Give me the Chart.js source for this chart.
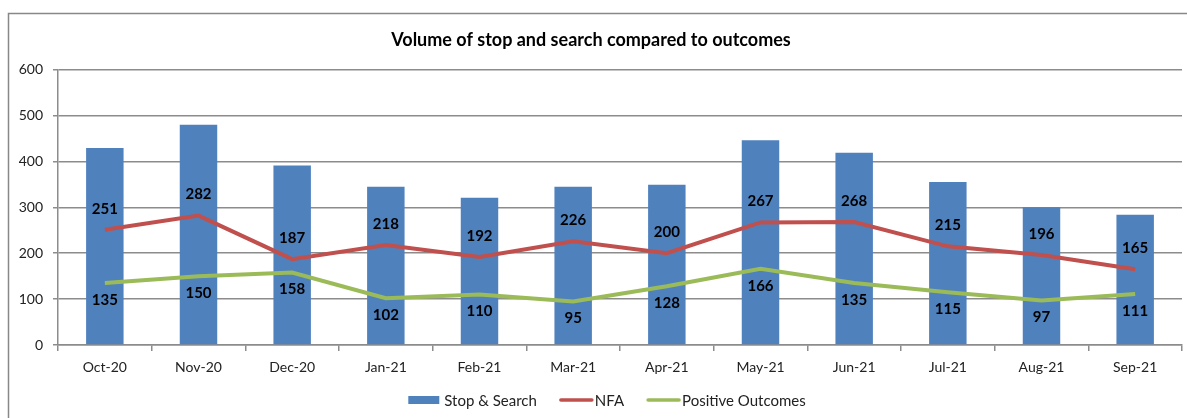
<!DOCTYPE html>
<html>
<head>
<meta charset="utf-8">
<script src="https://cdn.jsdelivr.net/npm/chart.js@4"></script>
<style>
html,body{margin:0;padding:0;background:#fff;}
#wrap{width:1187px;height:418px;position:relative;}
</style>
</head>
<body>
<div id="wrap"><canvas id="c" width="1187" height="418"></canvas></div>
<script>
const categories = ['Oct-20','Nov-20','Dec-20','Jan-21','Feb-21','Mar-21','Apr-21','May-21','Jun-21','Jul-21','Aug-21','Sep-21'];
const stopSearch = [429, 480, 391, 345, 321, 345, 349, 446, 419, 355, 300, 284];
const nfa = [251, 282, 187, 218, 192, 226, 200, 267, 268, 215, 196, 165];
const positiveOutcomes = [135, 150, 158, 102, 110, 95, 128, 166, 135, 115, 97, 111];
const yTicks = [0, 100, 200, 300, 400, 500, 600];
const titleText = 'Volume of stop and search compared to outcomes';

const FONT = 'Lato, "Liberation Sans", sans-serif';
const GRID = '#8c8c8c';

const frame = {
  id: 'frame',
  beforeDraw(chart) {
    const ctx = chart.ctx;
    ctx.save();
    ctx.fillStyle = '#fff';
    ctx.fillRect(0, 0, chart.width, chart.height);
    ctx.strokeStyle = '#888';
    ctx.lineWidth = 1.5;
    ctx.strokeRect(8.5, 13.5, chart.width + 20, chart.height + 20);
    ctx.restore();
  }
};

const valueLabels = {
  id: 'valueLabels',
  afterDatasetsDraw(chart) {
    const ctx = chart.ctx;
    ctx.save();
    ctx.font = 'bold 15px ' + FONT;
    ctx.fillStyle = '#000';
    ctx.textAlign = 'center';
    ctx.textBaseline = 'middle';
    chart.data.datasets.forEach((ds, i) => {
      if (ds.labelOffset === undefined) return;
      const meta = chart.getDatasetMeta(i);
      meta.data.forEach((pt, j) => {
        ctx.fillText(String(ds.data[j]), pt.x, pt.y + ds.labelOffset);
      });
    });
    ctx.restore();
  }
};

const customLegend = {
  id: 'customLegend',
  afterDraw(chart) {
    const ctx = chart.ctx;
    ctx.save();
    ctx.font = '15px ' + FONT;
    ctx.textBaseline = 'middle';
    const items = chart.data.datasets.map(ds => ({text: ds.label, color: ds.type === 'line' ? ds.borderColor : ds.backgroundColor, line: ds.type === 'line'}));
    const sym = 33, gap = 3, between = 22;
    let total = 0;
    items.forEach((it, k) => { it.w = ctx.measureText(it.text).width; total += sym + gap + it.w + (k ? between : 0); });
    let x = 607 - total / 2;
    const y = 400;
    items.forEach((it, k) => {
      if (k) x += between;
      if (it.line) {
        ctx.strokeStyle = it.color; ctx.lineWidth = 3.5; ctx.lineCap = 'round';
        ctx.beginPath(); ctx.moveTo(x + 2, y); ctx.lineTo(x + sym, y); ctx.stroke();
      } else {
        ctx.fillStyle = it.color; ctx.fillRect(x, y - 4, sym - 2, 8);
      }
      x += sym + gap;
      ctx.fillStyle = '#222';
      ctx.fillText(it.text, x, y + 1);
      x += it.w;
    });
    ctx.restore();
  }
};

new Chart(document.getElementById('c'), {
  type: 'bar',
  data: {
    labels: categories,
    datasets: [
      {type: 'bar', label: 'Stop & Search', data: stopSearch, backgroundColor: '#4F81BD', borderWidth: 0, barPercentage: 0.8, categoryPercentage: 0.5, order: 3},
      {type: 'line', label: 'NFA', data: nfa, borderColor: '#C0504D', backgroundColor: '#C0504D', borderWidth: 4, pointRadius: 0, tension: 0, labelOffset: -21, order: 1},
      {type: 'line', label: 'Positive Outcomes', data: positiveOutcomes, borderColor: '#9BBB59', backgroundColor: '#9BBB59', borderWidth: 4, pointRadius: 0, tension: 0, labelOffset: 17, order: 2}
    ]
  },
  options: {
    responsive: false,
    animation: false,
    events: [],
    layout: {padding: {top: 0, left: 0, right: 5, bottom: 0}},
    plugins: {
      legend: {display: false},
      tooltip: {enabled: false},
      title: {display: true, text: titleText, color: '#000', font: {family: FONT, size: 18, weight: 'bold'}, padding: {top: 29, bottom: 19}}
    },
    scales: {
      x: {
        offset: true,
        grid: {offset: true, drawOnChartArea: false, color: GRID, tickLength: 6, lineWidth: 1.5},
        border: {color: GRID, width: 1.5},
        ticks: {color: '#222', font: {family: FONT, size: 14}, padding: 8, maxRotation: 0},
        afterFit(scale) { scale.height = 73; }
      },
      y: {
        min: 0, max: 600,
        afterBuildTicks(scale) { scale.ticks = yTicks.map(v => ({value: v})); },
        grid: {color: GRID, tickLength: 5, lineWidth: 1.5},
        border: {color: GRID, width: 1.5},
        ticks: {color: '#222', font: {family: FONT, size: 14}, padding: 10},
        afterFit(scale) { scale.width = 58; }
      }
    }
  },
  plugins: [frame, valueLabels, customLegend]
});
</script>
</body>
</html>
